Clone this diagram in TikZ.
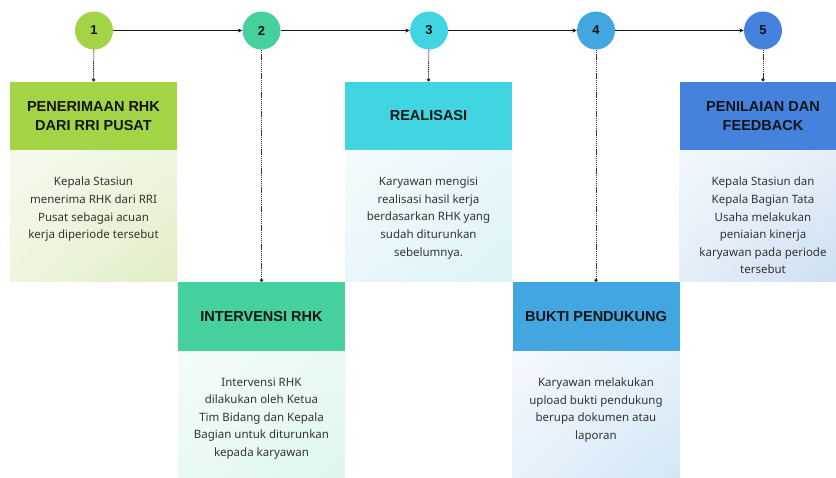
\documentclass[tikz,border=0pt]{standalone}
\usepackage{fontspec}
\setmainfont{Noto Sans}
\newfontfamily\headfont{Liberation Sans}
\usetikzlibrary{arrows.meta,shadings}
\definecolor{cA}{HTML}{A2D445}
\definecolor{cB}{HTML}{45D09E}
\definecolor{cC}{HTML}{41D5E2}
\definecolor{cD}{HTML}{42A7E0}
\definecolor{cE}{HTML}{4582DE}
\definecolor{txt}{HTML}{333333}
\definecolor{ink}{HTML}{151515}
\definecolor{aUL}{HTML}{F6FAEE}\definecolor{aM}{HTML}{EEF5DE}\definecolor{aLR}{HTML}{E0EEC6}
\definecolor{bUL}{HTML}{F4FCF9}\definecolor{bM}{HTML}{EAF9F3}\definecolor{bLR}{HTML}{DCF7EC}
\definecolor{dUL}{HTML}{F3FBFD}\definecolor{dM}{HTML}{E9F7FA}\definecolor{dLR}{HTML}{DCF2F4}
\definecolor{eUL}{HTML}{F4F9FD}\definecolor{eM}{HTML}{E6F1FA}\definecolor{eLR}{HTML}{D2E7F5}
\definecolor{fUL}{HTML}{F3F7FC}\definecolor{fM}{HTML}{E4EEF8}\definecolor{fLR}{HTML}{CCDFF1}
\begin{document}
\begin{tikzpicture}[x=1pt,y=-1pt,
  numdot/.style={circle,minimum size=38pt,inner sep=0pt,font=\headfont\bfseries\fontsize{13}{15}\selectfont,text=ink},
  headbox/.style={rectangle,minimum width=167pt,minimum height=68.5pt,inner sep=0pt,align=center,
    font=\headfont\bfseries\fontsize{14.5}{19.5}\selectfont,text=ink},
  bodybox/.style={rectangle,minimum width=167pt,inner sep=0pt},
  grad/.style n args={3}{upper left=#1,upper right=#2,lower left=#2,lower right=#3},
  bodytext/.style={anchor=north,inner sep=0pt,align=center,text=txt,font=\fontsize{11.5}{17.6}\selectfont},
  flow/.style={draw=ink,line width=0.9pt,-{Stealth[length=4.5pt,width=4pt]}},
  drop/.style={draw=txt,line width=0.9pt,dash pattern=on 1.2pt off 0.7pt,-{Circle[length=3.5pt]}}
]
\useasboundingbox (0,0) rectangle (836,477);
\clip (0,0) rectangle (836,477);
\fill[white] (0,0) rectangle (836,477);

% circles
\node[numdot,fill=cA] (c1) at (94,30.5) {1};
\node[numdot,fill=cB] (c2) at (261.5,30.5) {2};
\node[numdot,fill=cC] (c3) at (429,30.5) {3};
\node[numdot,fill=cD] (c4) at (596,30.5) {4};
\node[numdot,fill=cE] (c5) at (763,30.5) {5};

% body boxes (shaded)
\node[bodybox,minimum height=131pt,grad={aUL}{aM}{aLR}] (b1) at (93.5,215.5) {};
\node[bodybox,minimum height=126pt,grad={bUL}{bM}{bLR}] (b2) at (261.5,414) {};
\node[bodybox,minimum height=131pt,grad={dUL}{dM}{dLR}] (b3) at (428.5,215.5) {};
\node[bodybox,minimum height=126pt,grad={eUL}{eM}{eLR}] (b4) at (596,414) {};
\node[bodybox,minimum height=131pt,grad={fUL}{fM}{fLR}] (b5) at (763,215.5) {};

% headers
\node[headbox,fill=cA] (h1) at (93.5,116) {PENERIMAAN RHK\\DARI RRI PUSAT};
\node[headbox,fill=cB] (h2) at (261.5,316.5) {INTERVENSI RHK};
\node[headbox,fill=cC] (h3) at (428.5,116) {REALISASI};
\node[headbox,fill=cD] (h4) at (596,316.5) {BUKTI PENDUKUNG};
\node[headbox,fill=cE] (h5) at (763,116) {PENILAIAN DAN\\FEEDBACK};

% body texts
\node[bodytext] (t1) at (93.5,177) {Kepala Stasiun\\menerima RHK dari RRI\\Pusat sebagai acuan\\kerja diperiode tersebut};
\node[bodytext] (t2) at (261.5,377.5) {Intervensi RHK\\dilakukan oleh Ketua\\Tim Bidang dan Kepala\\Bagian untuk diturunkan\\kepada karyawan};
\node[bodytext] (t3) at (428.5,177) {Karyawan mengisi\\realisasi hasil kerja\\berdasarkan RHK yang\\sudah diturunkan\\sebelumnya.};
\node[bodytext] (t4) at (596,377.5) {Karyawan melakukan\\upload bukti pendukung\\berupa dokumen atau\\laporan};
\node[bodytext] (t5) at (763,177) {Kepala Stasiun dan\\Kepala Bagian Tata\\Usaha melakukan\\peniaian kinerja\\karyawan pada periode\\tersebut};

% connectors
\draw[flow] (c1) -- (c2);
\draw[flow] (c2) -- (c3);
\draw[flow] (c3) -- (c4);
\draw[flow] (c4) -- (c5);
\draw[drop] (c1) -- (h1.north);
\draw[drop] (c2) -- (h2.north);
\draw[drop] (c3) -- (h3.north);
\draw[drop] (c4) -- (h4.north);
\draw[drop] (c5) -- (h5.north);
\end{tikzpicture}
\end{document}
